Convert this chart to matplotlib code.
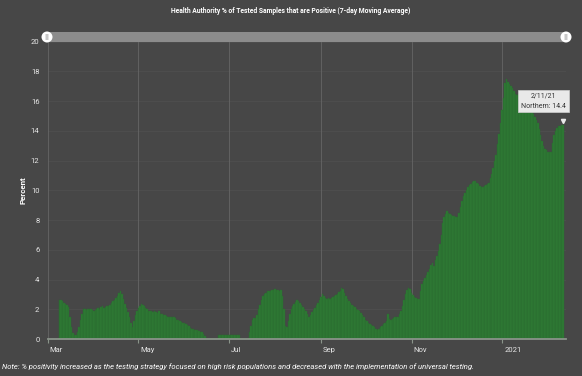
import matplotlib
matplotlib.use("Agg")
import matplotlib.pyplot as plt
import matplotlib.dates as mdates
import matplotlib.transforms as mtrans
import numpy as np
from matplotlib.patches import Rectangle, Ellipse, FancyBboxPatch

# daily 7-day moving average % positive, starting Mar 9 2020
start_date = np.datetime64("2020-03-09")
pct_positive = [
    2.65, 2.6, 2.55, 2.4, 2.35, 2.3, 2.15,               # Mar 9-15
    1.5, 0.8, 0.4, 0.3, 0.3, 0.45, 0.8,                  # Mar 16-22
    1.3, 1.7, 2.0, 2.0, 1.95, 2.05, 2.0, 2.0,            # Mar 23-30
    1.95, 1.9, 1.95, 2.05, 2.1, 2.05, 2.15, 2.2, 2.1, 2.15,
    2.2, 2.25, 2.3, 2.45, 2.55, 2.6, 2.75, 2.9, 3.1, 3.2,
    3.0, 2.7, 2.35, 2.1, 1.8, 1.5, 1.1, 0.8, 1.2, 1.6,
    1.9, 2.1, 2.2, 2.35, 2.3, 2.2, 2.1, 2.05, 1.9, 1.85,
    1.85, 1.8, 1.85, 1.8, 1.75, 1.85, 1.7, 1.65, 1.6, 1.6,
    1.55, 1.5, 1.5, 1.45, 1.5, 1.45, 1.4, 1.3, 1.25, 1.2,
    1.15, 1.1, 1.05, 1.0, 0.95, 0.9, 0.75, 0.7, 0.65, 0.6,
    0.6, 0.6, 0.55, 0.5, 0.45, 0.35, 0.2, 0, 0, 0,
    0, 0, 0, 0, 0, 0.3, 0.3, 0.3, 0.3, 0.3,
    0.3, 0.3, 0.3, 0.3, 0.3, 0.3, 0.3, 0.3, 0.3, 0.3,
    0, 0, 0, 0, 0, 0, 0.5, 0.9, 1.3, 1.4,
    1.4, 1.6, 2.0, 2.3, 2.6, 2.9, 3.0, 3.1, 3.2, 3.2,
    3.25, 3.3, 3.3, 3.35, 3.3, 3.3, 3.25, 3.3, 2.9, 2.0,
    0.9, 0.8, 1.2, 1.7, 2.0, 2.2, 2.35, 2.5, 2.6, 2.55,
    2.4, 2.3, 2.15, 2.0, 1.9, 1.7, 1.5, 1.6, 1.8, 1.95,
    2.1, 2.3, 2.45, 2.6, 2.8, 3.05, 2.9, 2.75, 2.7, 2.75,
    2.7, 2.75, 2.8, 2.9, 2.95, 3.05, 3.15, 3.25, 3.4, 3.35,
    3.1, 2.9, 2.7, 2.55, 2.4, 2.3, 2.2, 2.15, 2.05, 1.95,
    1.9, 1.75, 1.6, 1.45, 1.3, 1.2, 1.1, 1.0, 0.95, 0.85,
    0.8, 0.7, 0.6, 0.7, 0.8, 0.9, 1.0, 1.1, 1.2, 1.7,
    1.35, 1.3, 1.35, 1.4, 1.45, 1.5, 1.5, 1.7, 1.9, 2.2,
    2.6, 3.0, 3.3, 3.45, 3.35, 3.1, 2.95, 2.85, 2.75, 2.7,
    2.7, 3.2, 3.7, 3.9, 4.1, 4.3, 4.5, 4.7, 5.0, 5.1,
    4.9, 5.3, 5.6, 5.9, 6.4, 7.0, 7.8, 8.2, 8.4, 8.6,
    8.5, 8.4, 8.35, 8.3, 8.3, 8.2, 8.2, 8.5, 8.9, 9.3,
    9.6, 9.8, 10.0, 10.2, 10.35, 10.45, 10.55, 10.6, 10.6, 10.5,
    10.45, 10.3, 10.2, 10.25, 10.3, 10.35, 10.4, 10.5, 10.8, 11.1,
    11.5, 12.0, 12.4, 13.1, 13.8, 14.5, 15.4, 16.2, 17.2, 17.45,
    17.3, 17.15, 17.0, 16.9, 16.7, 16.5, 16.4, 16.5, 16.65, 16.6,
    16.5, 16.3, 16.1, 15.9, 15.7, 15.5, 15.3, 15.1, 14.9, 14.7,
    14.5, 14.1, 13.7, 13.3, 13.0, 12.8, 12.7, 12.6, 12.55, 12.6,
    13.2, 13.7, 14.0, 14.2, 14.3, 14.35, 14.4, 14.4,
]
dates = start_date + np.arange(len(pct_positive))

tick_dates = ["2020-03-01", "2020-05-01", "2020-07-01", "2020-09-01", "2020-11-01", "2021-01-01"]
tick_labels = ["Mar", "May", "Jul", "Sep", "Nov", "2021"]
y_ticks = [0, 2, 4, 6, 8, 10, 12, 14, 16, 18, 20]

title = "Health Authority % of Tested Samples that are Positive (7-day Moving Average)"
note = ("Note: % positivity increased as the testing strategy focused on high risk "
        "populations and decreased with the implementation of universal testing.")

bg = "#474747"
bar_color = "#2f7b35"
plt.rcParams["font.family"] = ["Roboto", "DejaVu Sans"]

fig = plt.figure(figsize=(5.82, 3.76), dpi=100)
fig.patch.set_facecolor(bg)
ax = fig.add_axes([0.082, 0.0984, 0.8905, 0.7912])
ax.set_facecolor(bg)

ax.bar(dates.astype(object), pct_positive, width=1.0,
       color=bar_color, edgecolor="#2a6a2f", linewidth=0.3, zorder=2)

ax.set_ylim(0, 20)
ax.set_xlim(mdates.date2num(np.datetime64("2020-03-01")), mdates.date2num(np.datetime64("2021-02-13")))
ax.set_yticks(y_ticks)
ax.set_yticklabels([str(v) for v in y_ticks], fontsize=5.5, color="#e6e6e6")
ax.tick_params(axis="y", length=0, pad=6)

tick_pos = [mdates.date2num(np.datetime64(d)) for d in tick_dates]
ax.set_xticks(tick_pos)
ax.set_xticklabels(tick_labels, fontsize=5.5, color="#e6e6e6", ha="left")
ax.tick_params(axis="x", length=3, color="#8a948a", pad=3)
# nudge x labels right of the tick
offset = mtrans.ScaledTranslation(2 / 100, 0, fig.dpi_scale_trans)
for lbl in ax.get_xticklabels():
    lbl.set_transform(lbl.get_transform() + offset)

# grid
for yv in y_ticks[1:]:
    ax.axhline(yv, color="#4f4f4f", linewidth=0.6, zorder=0)
for xv in tick_pos:
    ax.axvline(xv, color="#666666", linewidth=0.6, zorder=1)

for s in ["top", "right", "left"]:
    ax.spines[s].set_visible(False)
ax.spines["bottom"].set_color("#8a948a")
ax.spines["bottom"].set_linewidth(1.3)
ax.spines["bottom"].set_zorder(3)

ax.set_ylabel("Percent", fontsize=5.8, color="white", fontweight="bold", labelpad=3)

fig.text(0.5, 0.982, title, ha="center", va="top", fontsize=4.9, color="white", fontweight="bold")
fig.text(0.004, 0.024, note, ha="left", va="center", fontsize=5.5, color="white", style="italic")

# navigator bar at top
x0, x1 = 47 / 582, 566 / 582
yb = 1 - 42 / 376
fig.patches.append(Rectangle((x0, yb), x1 - x0, 10 / 376, transform=fig.transFigure,
                             facecolor="#8c8c8c", edgecolor="none", zorder=5))
for xh in (x0, x1):
    fig.patches.append(Ellipse((xh, yb + 5 / 376), 11 / 582, 11 / 376,
                               transform=fig.transFigure, facecolor="white",
                               edgecolor="none", zorder=6))
    fig.patches.append(FancyBboxPatch((xh - 1.5 / 582, yb + 2 / 376), 3 / 582, 6 / 376,
                                      boxstyle="round,pad=0", transform=fig.transFigure,
                                      facecolor="#c8c8c8", edgecolor="none", zorder=7))

# tooltip for last point
last_x = mdates.date2num(dates[-1])
last_y = pct_positive[-1]
ax.annotate("2/11/21\nNorthern: 14.4", xy=(last_x, last_y), xytext=(-14, 11),
            textcoords="offset points", ha="center", va="bottom", fontsize=5,
            color="#333333", linespacing=1.6, zorder=10,
            bbox=dict(boxstyle="square,pad=0.4", fc="#e9e9e9", ec="#cfcfcf", lw=0.5))
ax.plot([last_x], [last_y + 0.25], marker="v", color="#e9e9e9", markersize=3, zorder=10)

fig.savefig("out.png", dpi=100, facecolor=bg)
